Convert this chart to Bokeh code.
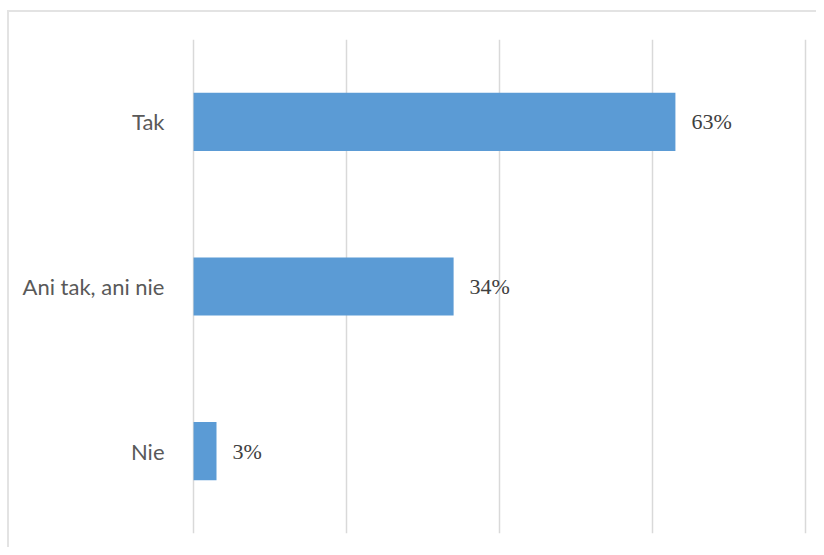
from bokeh.plotting import figure
from bokeh.models import ColumnDataSource, FactorRange, LabelSet, Range1d, FixedTicker
from bokeh.embed import file_html
from bokeh.resources import INLINE

categories = ["Tak", "Ani tak, ani nie", "Nie"]
values = [0.63, 0.34, 0.03]
labels = ["63%", "34%", "3%"]

source = ColumnDataSource(data=dict(cat=categories, val=values, lab=labels))

p = figure(width=809, height=537, output_backend="svg", toolbar_location=None,
           y_range=FactorRange(*categories[::-1]), x_range=Range1d(-0.004, 0.804),
           min_border_left=181, min_border_top=27, min_border_right=10, min_border_bottom=16)
p.styles = {"border-top": "2px solid #e3e3e3", "border-left": "2px solid #e3e3e3",
            "margin": "10px 0 0 7px"}
p.outline_line_color = None
p.background_fill_color = "white"
p.border_fill_color = "white"

p.hbar(y="cat", right="val", left=0, height=0.353, source=source, color="#5b9bd5", line_color=None)

p.add_layout(LabelSet(x="val", y="cat", text="lab", source=source, x_offset=16,
                      text_baseline="middle", text_font="Lato", text_font_size="22px",
                      text_color="#404040"))

p.xaxis.visible = False
p.xgrid.ticker = FixedTicker(ticks=[0, 0.2, 0.4, 0.6, 0.8])
p.xgrid.grid_line_color = "#d9d9d9"
p.xgrid.grid_line_width = 1.5
p.ygrid.grid_line_color = None

p.yaxis.axis_line_color = None
p.yaxis.major_tick_line_color = None
p.yaxis.minor_tick_line_color = None
p.yaxis.major_label_text_font = "Lato"
p.yaxis.major_label_text_font_size = "22px"
p.yaxis.major_label_text_color = "#595959"
p.yaxis.major_label_standoff = 20

open("out.html", "w").write(file_html(p, INLINE))
